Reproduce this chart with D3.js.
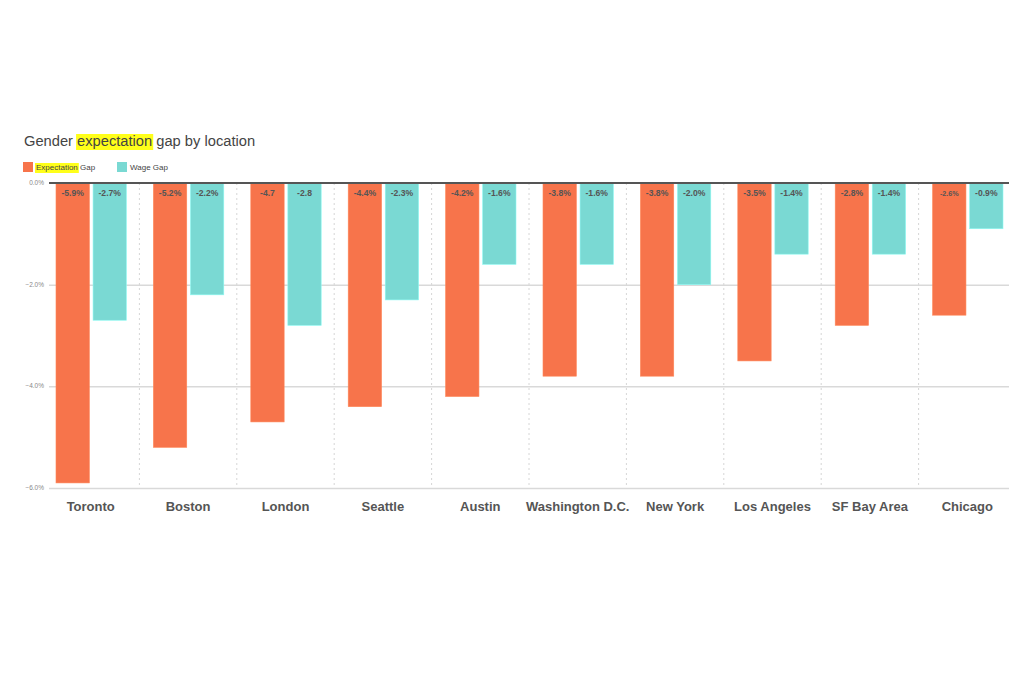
<!DOCTYPE html>
<html>
<head>
<meta charset="utf-8">
<script src="https://d3js.org/d3.v7.min.js"></script>
<style>
  body { margin: 0; background: white; }
  svg text { font-family: "Liberation Sans", Arial, sans-serif; }
  .gridlines .domain { stroke: none; }
  .gridlines line { stroke: #d9d9d9; stroke-width: 1.5px; }
</style>
</head>
<body>
<svg id="chart" width="1024" height="683"></svg>
<script>
const locations = ["Toronto", "Boston", "London", "Seattle", "Austin", "Washington D.C.", "New York", "Los Angeles", "SF Bay Area", "Chicago"];
const expectationGap = [-5.9, -5.2, -4.7, -4.4, -4.2, -3.8, -3.8, -3.5, -2.8, -2.6];
const wageGap = [-2.7, -2.2, -2.8, -2.3, -1.6, -1.6, -2.0, -1.4, -1.4, -0.9];
const expectationLabels = ["-5.9%", "-5.2%", "-4.7", "-4.4%", "-4.2%", "-3.8%", "-3.8%", "-3.5%", "-2.8%", "-2.6%"];
const wageLabels = ["-2.7%", "-2.2%", "-2.8", "-2.3%", "-1.6%", "-1.6%", "-2.0%", "-1.4%", "-1.4%", "-0.9%"];
const yTicks = [0, -2, -4, -6];
const seriesNames = ["Expectation Gap", "Wage Gap"];

const orange = "#f7744b";
const teal = "#7ad9d3";

const svg = d3.select("#chart");

const x = d3.scaleBand().domain(locations).range([42, 1016]).paddingInner(0).paddingOuter(0);
const xInner = d3.scaleBand().domain(seriesNames).range([14, x.bandwidth() - 13]).paddingInner(0.1);
const y = d3.scaleLinear().domain([0, -6]).range([183, 488]);

// title
const title = svg.append("text").attr("x", 24).attr("y", 146)
  .style("font-size", "14.7px").style("fill", "#444");
title.append("tspan").text("Gender ");
title.append("tspan").attr("id", "hl").text("expectation");
title.append("tspan").text(" gap by location");

// legend
const legend = svg.append("g");
const legItems = [
  {name: seriesNames[0], color: orange, x: 23},
  {name: seriesNames[1], color: teal, x: 117}
];
legItems.forEach(d => {
  legend.append("rect").attr("x", d.x).attr("y", 162).attr("width", 10).attr("height", 10).attr("fill", d.color);
});
const leg1 = legend.append("text").attr("x", 36).attr("y", 170).style("font-size", "8px");
leg1.append("tspan").attr("id", "hl2").attr("fill", "#444").text("Expectation");
leg1.append("tspan").attr("fill", "#444").text(" Gap");
legend.append("text").attr("x", 130).attr("y", 170).style("font-size", "8px").attr("fill", "#444").text("Wage Gap");

// gridlines
svg.append("g").attr("class", "gridlines")
  .attr("transform", "translate(49,0)")
  .call(d3.axisLeft(y).tickValues(yTicks.slice(1)).tickSize(-960).tickFormat(""));

// vertical dashed separators
svg.append("g").selectAll("line").data(locations.slice(1))
  .join("line")
  .attr("x1", d => x(d)).attr("x2", d => x(d))
  .attr("y1", 183).attr("y2", 488)
  .attr("stroke", "#d6d6d6").attr("stroke-dasharray", "2,3").attr("stroke-width", 1);

// y tick labels
svg.append("g").selectAll("text").data(yTicks)
  .join("text")
  .attr("x", 44).attr("y", d => y(d) + 2)
  .attr("text-anchor", "end")
  .style("font-size", "6.5px").style("fill", "#888")
  .text(d => d3.format(".1f")(d) + "%");

// bars
const groups = svg.append("g").selectAll("g").data(locations)
  .join("g")
  .attr("transform", d => `translate(${x(d)},0)`);

const barData = (d, i) => [
  {series: seriesNames[0], value: expectationGap[i], label: expectationLabels[i], color: orange},
  {series: seriesNames[1], value: wageGap[i], label: wageLabels[i], color: teal}
];

groups.selectAll("rect").data(barData)
  .join("rect")
  .attr("x", d => xInner(d.series))
  .attr("y", y(0))
  .attr("width", xInner.bandwidth())
  .attr("height", d => y(d.value) - y(0))
  .attr("fill", d => d.color)
  .attr("stroke", d => d3.color(d.color).brighter(0.4))
  .attr("stroke-width", 0.6);

groups.selectAll("text.val").data(barData)
  .join("text")
  .attr("class", "val")
  .attr("x", d => xInner(d.series) + xInner.bandwidth() / 2)
  .attr("y", 196)
  .attr("text-anchor", "middle")
  .style("font-size", d => d.label === "-2.6%" ? "7.2px" : "8.6px")
  .style("font-weight", "bold")
  .style("fill", "#555")
  .text(d => d.label);

// zero line
svg.append("line").attr("x1", 49).attr("x2", 1009).attr("y1", y(0)).attr("y2", y(0))
  .attr("stroke", "#555").attr("stroke-width", 2);

// category labels
svg.append("g").selectAll("text").data(locations)
  .join("text")
  .attr("x", d => x(d) + x.bandwidth() / 2)
  .attr("y", 511)
  .attr("text-anchor", "middle")
  .style("font-size", "13px").style("font-weight", "bold").style("fill", "#555")
  .text(d => d);

// yellow highlights behind text
function highlight(id, padY, h) {
  const node = document.getElementById(id);
  const bb = node.getBBox();
  const parent = d3.select(node.parentNode.parentNode);
  parent.insert("rect", () => node.parentNode)
    .attr("x", bb.x - 1).attr("y", bb.y + padY)
    .attr("width", bb.width + 2).attr("height", h)
    .attr("fill", "#ffff1a");
}
highlight("hl", 1, 16);
highlight("hl2", 0, 10);
</script>
</body>
</html>
